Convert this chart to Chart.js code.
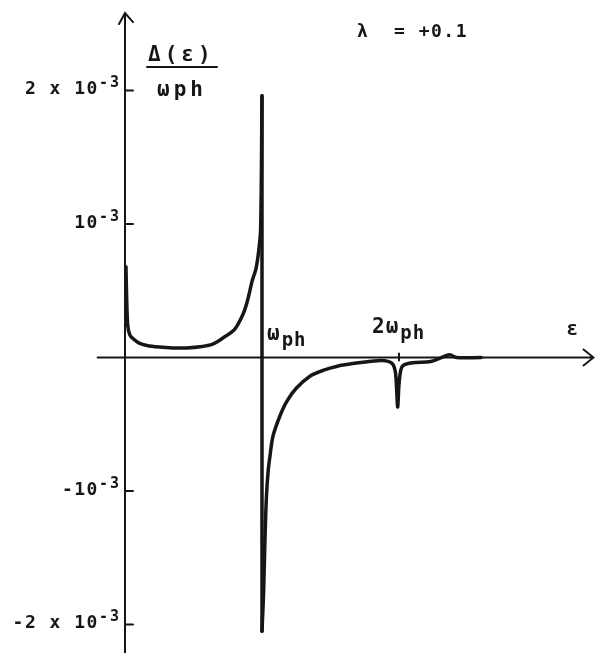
<!DOCTYPE html>
<html>
<head>
<meta charset="utf-8">
<script src="https://cdn.jsdelivr.net/npm/chart.js@4"></script>
<style>
  html, body { margin: 0; padding: 0; background: #fff; }
  canvas { display: block; }
</style>
</head>
<body>
<canvas id="gap" width="595" height="653"></canvas>
<script>
// epsilon in units of omega_ph, Delta(eps)/omega_ph in units of 1e-3
// below the phonon energy
const epsLow = [0.007, 0.012, 0.02, 0.035, 0.06, 0.1, 0.16, 0.25, 0.35, 0.45, 0.55, 0.64, 0.72, 0.8, 0.86, 0.89, 0.93, 0.955, 0.975, 0.99, 1.0]
const deltaLow = [0.68, 0.45, 0.24, 0.17, 0.14, 0.11, 0.09, 0.078, 0.072, 0.072, 0.08, 0.1, 0.15, 0.21, 0.32, 0.41, 0.58, 0.66, 0.79, 0.96, 1.96]
// above the phonon energy
const epsHigh = [1.0, 1.012, 1.022, 1.032, 1.045, 1.058, 1.08, 1.13, 1.18, 1.25, 1.35, 1.45, 1.55, 1.65, 1.77, 1.88, 1.95, 1.975, 1.99, 2.0, 2.012, 2.03, 2.1, 2.23, 2.3, 2.37, 2.42, 2.6]
const deltaHigh = [-2.05, -1.75, -1.35, -1.05, -0.85, -0.74, -0.59, -0.44, -0.33, -0.23, -0.14, -0.095, -0.065, -0.047, -0.032, -0.022, -0.045, -0.12, -0.37, -0.2, -0.1, -0.06, -0.04, -0.03, -0.005, 0.02, 0, 0]

const yTicks = [2, 1, -1, -2]
const yTickLabels = [["2 x 10", "-3"], ["10", "-3"], ["-10", "-3"], ["-2 x 10", "-3"]]
const xTicks = [1, 2]
const xTickLabels = [["ω", "ph"], ["2ω", "ph"]]
const title = "λ  = +0.1"

const ink = "#161616"
const mono = "'DejaVu Sans Mono', monospace"

const axesPlugin = {
  id: "axes",
  beforeDatasetsDraw(chart) {
    const ctx = chart.ctx
    const xs = chart.scales.x
    const ys = chart.scales.y
    const x0 = xs.getPixelForValue(0)
    const y0 = ys.getPixelForValue(0)
    const yTop = ys.getPixelForValue(2.58)
    const xLeft = xs.getPixelForValue(-0.2)
    const xRight = xs.getPixelForValue(3.42)

    ctx.save()
    ctx.strokeStyle = ink
    ctx.fillStyle = ink
    ctx.lineWidth = 2
    ctx.lineCap = "round"

    // y axis with open arrow
    ctx.beginPath()
    ctx.moveTo(x0, chart.height)
    ctx.lineTo(x0, yTop)
    ctx.moveTo(x0 - 6, yTop + 11)
    ctx.lineTo(x0, yTop)
    ctx.lineTo(x0 + 8, yTop + 9)
    ctx.stroke()

    // x axis with open arrow
    ctx.beginPath()
    ctx.moveTo(xLeft, y0)
    ctx.lineTo(xRight, y0)
    ctx.moveTo(xRight - 10, y0 - 8)
    ctx.lineTo(xRight, y0)
    ctx.lineTo(xRight - 10, y0 + 8)
    ctx.stroke()

    // y ticks and labels
    ctx.textBaseline = "alphabetic"
    yTicks.forEach((v, i) => {
      const py = ys.getPixelForValue(v)
      ctx.beginPath()
      ctx.moveTo(x0, py)
      ctx.lineTo(x0 + 8, py)
      ctx.stroke()
      const [base, sup] = yTickLabels[i]
      ctx.letterSpacing = "2px"
      ctx.font = "bold 15px " + mono
      ctx.textAlign = "right"
      const supW = ctx.measureText(sup).width
      ctx.fillText(sup, x0 - 4, py - 3)
      ctx.letterSpacing = "1.5px"
      ctx.font = "bold 18px " + mono
      ctx.fillText(base, x0 - 4 - supW, py + 4)
    })

    // x ticks and labels
    xTicks.forEach((v, i) => {
      const px = xs.getPixelForValue(v)
      ctx.beginPath()
      ctx.moveTo(px, y0 - 4)
      ctx.lineTo(px, y0 + 3)
      ctx.stroke()
      const [base, sub] = xTickLabels[i]
      ctx.textAlign = "left"
      ctx.letterSpacing = "1px"
      ctx.font = "bold 21px " + mono
      const bx = i === 0 ? px + 5 : px - 27
      const by = i === 0 ? y0 - 17 : y0 - 24
      ctx.fillText(base, bx, by)
      const bw = ctx.measureText(base).width
      ctx.font = "bold 19px " + mono
      ctx.fillText(sub, bx + bw + 1, by + 6)
    })

    // epsilon label at the end of x axis
    ctx.font = "bold 20px " + mono
    ctx.textAlign = "left"
    ctx.fillText("ε", xs.getPixelForValue(3.22), y0 - 22)

    // y axis title: Delta(eps) over omega_ph
    ctx.letterSpacing = "4px"
    ctx.font = "bold 21px " + mono
    ctx.fillText("Δ(ε)", x0 + 23, 61)
    ctx.fillText("ωph", x0 + 32, 96)
    ctx.beginPath()
    ctx.moveTo(x0 + 22, 67)
    ctx.lineTo(x0 + 92, 67)
    ctx.stroke()

    // parameter label
    ctx.letterSpacing = "1.5px"
    ctx.font = "bold 18px " + mono
    ctx.fillText(title, 357, 37)
    ctx.restore()
  }
}

const lineStyle = {
  showLine: true,
  borderColor: ink,
  borderWidth: 3.5,
  borderJoinStyle: "round",
  borderCapStyle: "round",
  pointRadius: 0,
  tension: 0.3,
}

const toPoints = (xs, ys) => xs.map((e, i) => ({x: e, y: ys[i]}))

new Chart(document.getElementById("gap"), {
  type: "scatter",
  data: {
    datasets: [
      {...lineStyle, data: toPoints(epsLow, deltaLow)},
      {...lineStyle, data: toPoints(epsHigh, deltaHigh)},
      // the jump at omega_ph joining both branches
      {...lineStyle, tension: 0,
        data: [{x: epsLow[epsLow.length - 1], y: deltaLow[deltaLow.length - 1]}, {x: epsHigh[0], y: deltaHigh[0]}]}
    ]
  },
  options: {
    responsive: false,
    animation: false,
    layout: {padding: 0, autoPadding: false},
    plugins: {legend: {display: false}, tooltip: {enabled: false}},
    scales: {
      x: {type: "linear", display: false, min: -0.9124, max: 3.4307},
      y: {type: "linear", display: false, min: -2.2135, max: 2.6779}
    }
  },
  plugins: [axesPlugin]
})
</script>
</body>
</html>
